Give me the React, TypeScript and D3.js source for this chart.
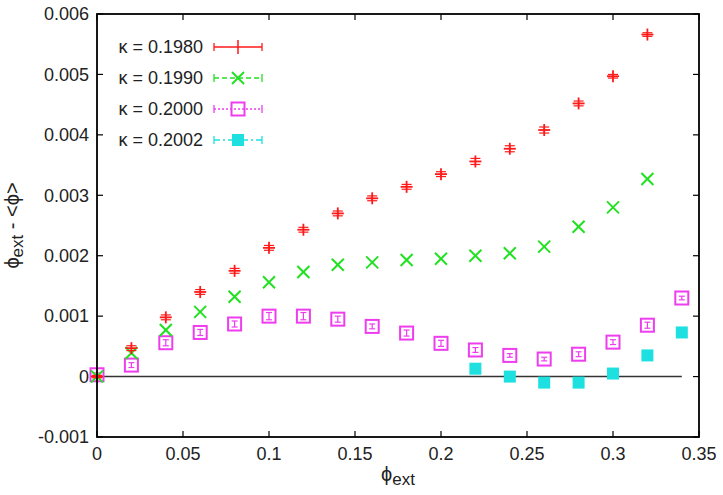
import * as d3 from 'd3';

// phi_ext values shared by the series
const phiExt = [0, 0.02, 0.04, 0.06, 0.08, 0.10, 0.12, 0.14, 0.16, 0.18, 0.20, 0.22, 0.24, 0.26, 0.28, 0.30, 0.32, 0.34];

const k1980 = [0, 0.00047, 0.00098, 0.0014, 0.00175, 0.00213, 0.00243, 0.0027, 0.00295, 0.00314, 0.00335, 0.00356, 0.00377, 0.00408, 0.00452, 0.00497, 0.00566];
const k1980Err = [0.00002, 0.00004, 0.00004, 0.00004, 0.00004, 0.00004, 0.00004, 0.00004, 0.00004, 0.00004, 0.00004, 0.00005, 0.00005, 0.00005, 0.00004, 0.00003, 0.00003];

const k1990 = [0, 0.00039, 0.00077, 0.00107, 0.00132, 0.00156, 0.00173, 0.00185, 0.00189, 0.00193, 0.00195, 0.002, 0.00204, 0.00215, 0.00248, 0.0028, 0.00327];

const k2000 = [0.00003, 0.00019, 0.00056, 0.00073, 0.00087, 0.001, 0.001, 0.00095, 0.00083, 0.00072, 0.00055, 0.00044, 0.00035, 0.00029, 0.00037, 0.00057, 0.00085, 0.0013];
const k2000Err = [0.00003, 0.00004, 0.00005, 0.00005, 0.00005, 0.00006, 0.00006, 0.00005, 0.00004, 0.00005, 0.00005, 0.00004, 0.00003, 0.00003, 0.00004, 0.00004, 0.00005, 0.00003];

const phiExt2002 = [0.22, 0.24, 0.26, 0.28, 0.30, 0.32, 0.34];
const k2002 = [0.00013, 0.0, -0.0001, -0.0001, 0.00005, 0.00035, 0.00073];

const xTicks = [0, 0.05, 0.1, 0.15, 0.2, 0.25, 0.3, 0.35];
const yTicks = [-0.001, 0, 0.001, 0.002, 0.003, 0.004, 0.005, 0.006];
const legendLabels = ['κ = 0.1980', 'κ = 0.1990', 'κ = 0.2000', 'κ = 0.2002'];

const RED = '#ff1a1a';
const GREEN = '#22e022';
const MAGENTA = '#ee3dee';
const CYAN = '#1fe0e0';

const width = 723;
const height = 495;
const margin = { top: 14, right: 24, bottom: 58, left: 97 };
const font = '"Liberation Sans", Arial, Helvetica, sans-serif';

function Plus({ x, y, c }: { x: number; y: number; c: string }) {
  return (
    <g stroke={c} strokeWidth={1.8}>
      <line x1={x - 6} x2={x + 6} y1={y} y2={y} />
      <line x1={x} x2={x} y1={y - 6} y2={y + 6} />
    </g>
  );
}

function Cross({ x, y, c }: { x: number; y: number; c: string }) {
  return (
    <g stroke={c} strokeWidth={2}>
      <line x1={x - 6} x2={x + 6} y1={y - 6} y2={y + 6} />
      <line x1={x - 6} x2={x + 6} y1={y + 6} y2={y - 6} />
    </g>
  );
}

function OpenSq({ x, y, c }: { x: number; y: number; c: string }) {
  return <rect x={x - 6.5} y={y - 6.5} width={13} height={13} fill="none" stroke={c} strokeWidth={2} />;
}

function FillSq({ x, y, c }: { x: number; y: number; c: string }) {
  return <rect x={x - 6} y={y - 6} width={12} height={12} fill={c} />;
}

function ErrBar({ x, y0, y1, c, w = 4 }: { x: number; y0: number; y1: number; c: string; w?: number }) {
  return (
    <g stroke={c} strokeWidth={1.2}>
      <line x1={x} x2={x} y1={y0} y2={y1} />
      <line x1={x - w} x2={x + w} y1={y0} y2={y0} />
      <line x1={x - w} x2={x + w} y1={y1} y2={y1} />
    </g>
  );
}

export default function App() {
  const iw = width - margin.left - margin.right;
  const ih = height - margin.top - margin.bottom;

  const x = d3.scaleLinear().domain([0, 0.35]).range([0, iw]);
  const y = d3.scaleLinear().domain([-0.001, 0.006]).range([ih, 0]);

  const legendY = (i: number) => 47 + i * 31 - margin.top;
  const lx0 = 214 - margin.left;
  const lx1 = 262 - margin.left;
  const lxm = (lx0 + lx1) / 2;
  const legendColors = [RED, GREEN, MAGENTA, CYAN];
  const legendDash = ['none', '5,3', '2,2', '6,3,2,3'];

  return (
    <svg width={width} height={height} style={{ position: 'absolute', left: 0, top: 0, background: '#fff' }} fontFamily={font}>
      <g transform={`translate(${margin.left},${margin.top})`}>
        {/* zero line */}
        <line x1={x(0)} x2={x(0.34)} y1={y(0)} y2={y(0)} stroke="#333" strokeWidth={1.5} />

        {/* ticks, mirrored on all sides */}
        {xTicks.map((t, i) => (
          <g key={`xt${i}`}>
            <line x1={x(t)} x2={x(t)} y1={ih} y2={ih - 6} stroke="#000" strokeWidth={1.2} />
            <line x1={x(t)} x2={x(t)} y1={0} y2={6} stroke="#000" strokeWidth={1.2} />
            <text x={x(t)} y={ih + 23} textAnchor="middle" fontSize={18} fill="#222">
              {t === 0 ? '0' : String(t)}
            </text>
          </g>
        ))}
        {yTicks.map((t, i) => (
          <g key={`yt${i}`}>
            <line x1={0} x2={6} y1={y(t)} y2={y(t)} stroke="#000" strokeWidth={1.2} />
            <line x1={iw} x2={iw - 6} y1={y(t)} y2={y(t)} stroke="#000" strokeWidth={1.2} />
            <text x={-8} y={y(t)} dy="0.35em" textAnchor="end" fontSize={18} fill="#222">
              {t === 0 ? '0' : d3.format('.3f')(t).replace('−', '-')}
            </text>
          </g>
        ))}

        {/* kappa = 0.2002 */}
        {phiExt2002.map((p, i) => (
          <FillSq key={`c${i}`} x={x(p)} y={y(k2002[i])} c={CYAN} />
        ))}

        {/* kappa = 0.2000 */}
        {k2000.map((v, i) => (
          <g key={`m${i}`}>
            <OpenSq x={x(phiExt[i])} y={y(v)} c={MAGENTA} />
            <ErrBar x={x(phiExt[i])} y0={y(v - k2000Err[i])} y1={y(v + k2000Err[i])} c={MAGENTA} w={3} />
          </g>
        ))}

        {/* kappa = 0.1990 */}
        {k1990.map((v, i) => (
          <Cross key={`g${i}`} x={x(phiExt[i])} y={y(v)} c={GREEN} />
        ))}

        {/* kappa = 0.1980 */}
        {k1980.map((v, i) => (
          <g key={`r${i}`}>
            <Plus x={x(phiExt[i])} y={y(v)} c={RED} />
            <ErrBar x={x(phiExt[i])} y0={y(v - k1980Err[i])} y1={y(v + k1980Err[i])} c={RED} w={5} />
          </g>
        ))}

        {/* frame */}
        <rect x={0} y={0} width={iw} height={ih} fill="none" stroke="#000" strokeWidth={1.8} />

        {/* legend */}
        {legendLabels.map((lab, i) => {
          const ly = legendY(i);
          const c = legendColors[i];
          return (
            <g key={`l${i}`}>
              <text x={203 - margin.left} y={ly} dy="0.35em" textAnchor="end" fontSize={18} fill="#222">
                {lab}
              </text>
              <line x1={lx0} x2={lx1} y1={ly} y2={ly} stroke={c} strokeWidth={1.3} strokeDasharray={legendDash[i]} />
              <line x1={lx0} x2={lx0} y1={ly - 4} y2={ly + 4} stroke={c} strokeWidth={1.3} />
              <line x1={lx1} x2={lx1} y1={ly - 4} y2={ly + 4} stroke={c} strokeWidth={1.3} />
              {i === 0 && <line x1={lxm} x2={lxm} y1={ly - 7} y2={ly + 7} stroke={c} strokeWidth={1.5} />}
              {i === 1 && <Cross x={lxm} y={ly} c={c} />}
              {i === 2 && <OpenSq x={lxm} y={ly} c={c} />}
              {i === 3 && <FillSq x={lxm} y={ly} c={c} />}
            </g>
          );
        })}

        {/* axis labels */}
        <text x={iw / 2} y={ih + 44} textAnchor="middle" fontSize={20} fill="#222">
          ϕ<tspan fontSize={17} dy={4}>ext</tspan>
        </text>
        <text
          transform={`translate(${-78},${ih / 2}) rotate(-90)`}
          textAnchor="middle"
          fontSize={20}
          fill="#222"
        >
          ϕ<tspan fontSize={17} dy={4}>ext</tspan>
          <tspan dy={-4}> - &lt;ϕ&gt;</tspan>
        </text>
      </g>
    </svg>
  );
}
